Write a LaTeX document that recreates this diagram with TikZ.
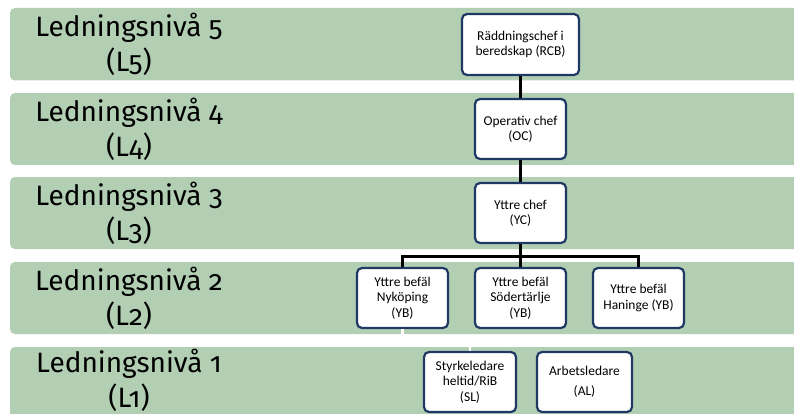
\documentclass[tikz,border=0pt]{standalone}
\usepackage{fontspec}
\setmainfont{Carlito}
\newfontfamily\bandfont[Numbers=OldStyle]{Fira Sans}
\definecolor{bandgreen}{RGB}{178,207,180}
\definecolor{boxnavy}{RGB}{31,56,100}
\tikzset{
  band/.style={fill=bandgreen},
  bandlabel/.style={align=center,font=\bandfont\fontsize{28}{35}\selectfont,text=black},
  orgbox/.style={draw=boxnavy,line width=2.2pt,fill=white,rounded corners=5pt,align=center,
    font=\fontsize{13.5}{15.5}\selectfont,inner sep=2pt},
  conn/.style={draw=black,line width=2.6pt},
  wconn/.style={draw=white,line width=2.6pt}
}
\begin{document}
\begin{tikzpicture}[x=1pt,y=-1pt]
\useasboundingbox (0,0) rectangle (794,414);
\fill[white] (0,0) rectangle (794,414);
\clip (0,0) rectangle (794,414);
% bands
\foreach \t/\b in {8/80.5, 93/165, 177/249, 262/334, 347/430}{
  \fill[band,rounded corners=5pt] (10,\t) rectangle (830,\b);
}
% band labels
\node[bandlabel] (l5) at (129,44.5) {Ledningsnivå 5\\(L5)};
\node[bandlabel] (l4) at (129,129) {Ledningsnivå 4\\(L4)};
\node[bandlabel] (l3) at (129,213) {Ledningsnivå 3\\(L3)};
\node[bandlabel] (l2) at (129,298) {Ledningsnivå 2\\(L2)};
\node[bandlabel] (l1) at (129,380) {Ledningsnivå 1\\(L1)};
% boxes
\node[orgbox,minimum width=117pt,minimum height=61pt] (rcb) at (520.5,44.5) {Räddningschef i\\beredskap (RCB)};
\node[orgbox,minimum width=91pt,minimum height=60pt] (oc) at (520.5,129) {Operativ chef\\(OC)};
\node[orgbox,minimum width=91pt,minimum height=60pt] (yc) at (520.5,213) {Yttre chef\\(YC)};
\node[orgbox,minimum width=91pt,minimum height=60pt] (yb1) at (402.5,298) {Yttre befäl\\Nyköping\\(YB)};
\node[orgbox,minimum width=91pt,minimum height=60pt] (yb2) at (520.5,298) {Yttre befäl\\Södertärlje\\(YB)};
\node[orgbox,minimum width=91pt,minimum height=60pt] (yb3) at (638.5,298) {Yttre befäl\\Haninge (YB)};
\node[orgbox,minimum width=92pt,minimum height=60pt] (sl) at (470,382) {Styrkeledare\\heltid/RiB\\(SL)};
\node[orgbox,minimum width=95pt,minimum height=60pt,font=\fontsize{13.5}{20}\selectfont] (al) at (584.5,382) {Arbetsledare\\(AL)};
% connectors
\coordinate (bar) at (520.5,256.5);
\coordinate (wbend) at (402.5,340.5);
\draw[conn] (rcb.south) -- (oc.north);
\draw[conn] (oc.south) -- (yc.north);
\draw[conn] (yc.south) -- (yb2.north);
\draw[conn] (yb1.north) |- (bar) -| (yb3.north);
\draw[wconn] (yb1.south) -- (wbend) -| (sl.north);
\end{tikzpicture}
\end{document}
